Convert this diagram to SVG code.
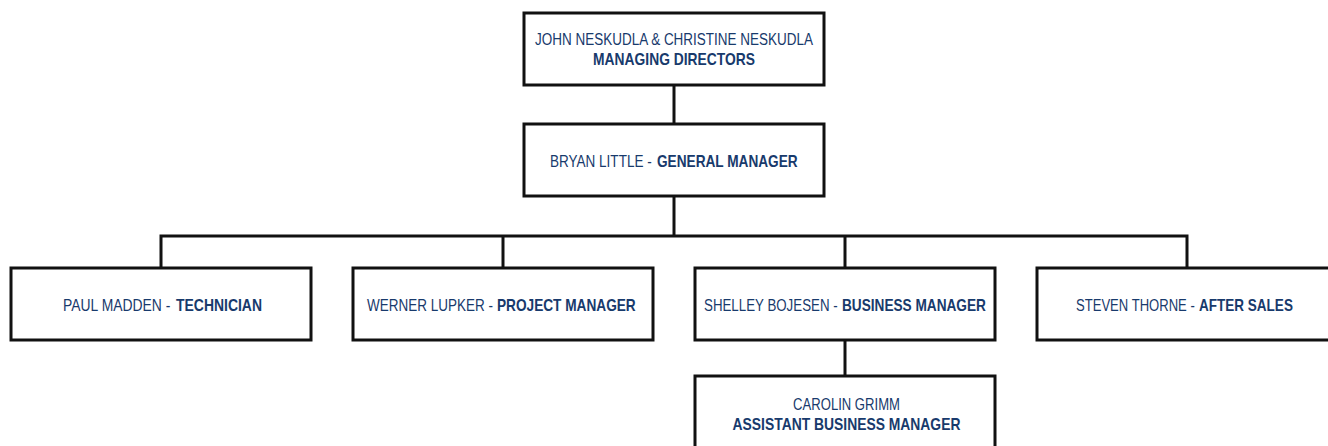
<svg xmlns="http://www.w3.org/2000/svg" width="1328" height="446" viewBox="0 0 1328 446">
<style>
.box{fill:#fff;stroke:#111;stroke-width:3}
.ln{fill:none;stroke:#111;stroke-width:3}
text{font-family:"Liberation Sans",Arial,sans-serif;font-size:16.5px;fill:#183a6c}
.m{text-anchor:middle}
.b{font-weight:bold}
</style>
<rect width="1328" height="446" fill="#fff"/>
<g id="connectors">
<line class="ln" x1="674" y1="85" x2="674" y2="124"/>
<line class="ln" x1="674" y1="196" x2="674" y2="236"/>
<polyline class="ln" points="161,268 161,236 1187,236 1187,268"/>
<line class="ln" x1="503" y1="236" x2="503" y2="268"/>
<line class="ln" x1="845" y1="236" x2="845" y2="268"/>
<line class="ln" x1="845" y1="340" x2="845" y2="376"/>
</g>
<g id="n-directors">
<rect class="box" x="524" y="13" width="300" height="72"/>
<text class="m" transform="translate(674,44.5) scale(0.818,1)">JOHN NESKUDLA &amp; CHRISTINE NESKUDLA</text>
<text class="m b" transform="translate(674,65) scale(0.838,1)">MANAGING DIRECTORS</text>
</g>
<g id="n-gm">
<rect class="box" x="524" y="124" width="300" height="72"/>
<text transform="translate(550,166.5) scale(0.820,1)">BRYAN LITTLE -</text>
<text class="b" transform="translate(657,166.5) scale(0.827,1)">GENERAL MANAGER</text>
</g>
<g id="n-tech">
<rect class="box" x="11" y="268" width="300" height="72"/>
<text transform="translate(63,310.5) scale(0.843,1)">PAUL MADDEN -</text>
<text class="b" transform="translate(176,310.5) scale(0.846,1)">TECHNICIAN</text>
</g>
<g id="n-pm">
<rect class="box" x="353" y="268" width="300" height="72"/>
<text transform="translate(367,310.5) scale(0.818,1)">WERNER LUPKER -</text>
<text class="b" transform="translate(497,310.5) scale(0.828,1)">PROJECT MANAGER</text>
</g>
<g id="n-bm">
<rect class="box" x="695" y="268" width="300" height="72"/>
<text transform="translate(704,310.5) scale(0.807,1)">SHELLEY BOJESEN -</text>
<text class="b" transform="translate(842,310.5) scale(0.827,1)">BUSINESS MANAGER</text>
</g>
<g id="n-as">
<rect class="box" x="1037" y="268" width="300" height="72"/>
<text transform="translate(1076,310.5) scale(0.792,1)">STEVEN THORNE -</text>
<text class="b" transform="translate(1199,310.5) scale(0.820,1)">AFTER SALES</text>
</g>
<g id="n-abm">
<rect class="box" x="695" y="376" width="300" height="80"/>
<text class="m" transform="translate(846.5,410) scale(0.794,1)">CAROLIN GRIMM</text>
<text class="m b" transform="translate(846.5,430) scale(0.841,1)">ASSISTANT BUSINESS MANAGER</text>
</g>
</svg>
